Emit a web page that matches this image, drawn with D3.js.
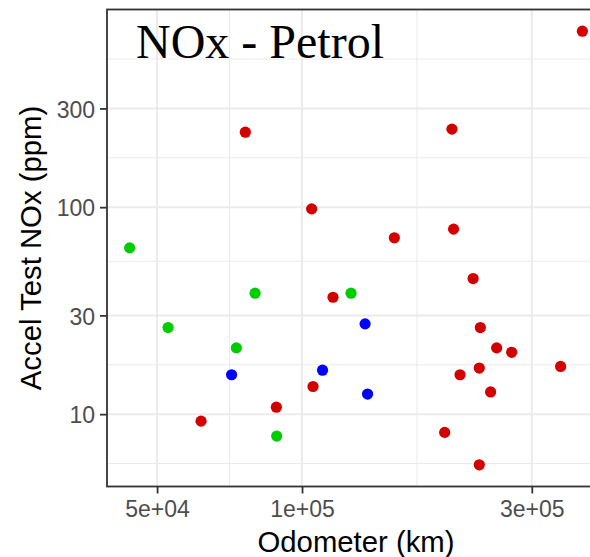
<!DOCTYPE html>
<html>
<head>
<meta charset="utf-8">
<script src="https://cdn.jsdelivr.net/npm/d3@7/dist/d3.min.js"></script>
<style>
  html, body { margin: 0; padding: 0; background: #fff; }
  svg { display: block; }
</style>
</head>
<body>
<svg id="chart" width="590" height="557"></svg>
<script>
// Odometer (km) and acceleration-test NOx (ppm), one pair of arrays per vehicle group
const redOdometer   = [76250, 382100, 204800, 104700, 155500, 206400, 226600, 61700, 88450, 115970,
                       105400, 234600, 253600, 272500, 344400, 233400, 212900, 246400, 197800, 233400];
const redNox        = [230.3, 708.5, 238.2, 98.1, 71.1, 78.3, 45.2, 9.25, 10.8, 36.7,
                       13.6, 26.2, 20.9, 19.9, 17.0, 16.7, 15.5, 12.8, 8.16, 5.69];
const greenOdometer = [43850, 52690, 79890, 73040, 88580, 126400];
const greenNox      = [63.6, 26.2, 38.4, 20.9, 7.83, 38.4];
const blueOdometer  = [71410, 135200, 110300, 136800];
const blueNox       = [15.5, 27.3, 16.3, 12.5];

const groupColors = ["#D30000", "#00CD00", "#0000FF"];

// Axis breaks and labels
const xTicks      = [5e4, 1e5, 3e5];
const xTickLabels = ["5e+04", "1e+05", "3e+05"];
const yTicks      = [10, 30, 100, 300];
const yTickLabels = ["10", "30", "100", "300"];

const chartTitle = "NOx - Petrol";
const xTitle = "Odometer (km)";
const yTitle = "Accel Test NOx (ppm)";

// Assemble point records
const groups = [
  { odo: redOdometer,   nox: redNox,   color: groupColors[0] },
  { odo: greenOdometer, nox: greenNox, color: groupColors[1] },
  { odo: blueOdometer,  nox: blueNox,  color: groupColors[2] }
];
const points = groups.flatMap(g => g.odo.map((o, i) => ({ x: o, y: g.nox[i], color: g.color })));

// Panel geometry
const panel = { left: 107, top: 9.5, right: 605, bottom: 486.5 };

// Log-space extent with 5% padding on each side
function paddedLogDomain(values) {
  const lo = Math.log10(d3.min(values)), hi = Math.log10(d3.max(values));
  const pad = (hi - lo) * 0.05;
  return [Math.pow(10, lo - pad), Math.pow(10, hi + pad)];
}

const x = d3.scaleLog()
  .domain(paddedLogDomain(points.map(d => d.x)))
  .range([panel.left, panel.right]);
const y = d3.scaleLog()
  .domain(paddedLogDomain(points.map(d => d.y)))
  .range([panel.bottom, panel.top]);

// Minor grid: midpoints (in log space) between majors, extended one step beyond each end
function minorBreaks(majors, scale) {
  const l = majors.map(Math.log10);
  const step = l[1] - l[0];
  const ext = [l[0] - step, ...l, l[l.length - 1] + step];
  const dom = scale.domain().map(Math.log10);
  const out = [];
  for (let i = 0; i < ext.length - 1; i++) {
    const m = (ext[i] + ext[i + 1]) / 2;
    if (m > dom[0] && m < dom[1]) out.push(Math.pow(10, m));
  }
  return out;
}

const svg = d3.select("#chart");
const font = "'Liberation Sans', Arial, Helvetica, sans-serif";

// Panel background
svg.append("rect")
  .attr("x", panel.left).attr("y", panel.top)
  .attr("width", panel.right - panel.left).attr("height", panel.bottom - panel.top)
  .attr("fill", "#fff");

const grid = svg.append("g");
// minor grid lines
grid.selectAll(".xminor").data(minorBreaks(xTicks, x)).join("line")
  .attr("x1", d => x(d)).attr("x2", d => x(d))
  .attr("y1", panel.top).attr("y2", panel.bottom)
  .attr("stroke", "#EBEBEB").attr("stroke-width", 1);
grid.selectAll(".yminor").data(minorBreaks(yTicks, y)).join("line")
  .attr("y1", d => y(d)).attr("y2", d => y(d))
  .attr("x1", panel.left).attr("x2", panel.right)
  .attr("stroke", "#EBEBEB").attr("stroke-width", 1);
// major grid lines
grid.selectAll(".xmajor").data(xTicks).join("line")
  .attr("x1", d => x(d)).attr("x2", d => x(d))
  .attr("y1", panel.top).attr("y2", panel.bottom)
  .attr("stroke", "#EBEBEB").attr("stroke-width", 2);
grid.selectAll(".ymajor").data(yTicks).join("line")
  .attr("y1", d => y(d)).attr("y2", d => y(d))
  .attr("x1", panel.left).attr("x2", panel.right)
  .attr("stroke", "#EBEBEB").attr("stroke-width", 2);

// Points
svg.append("g").selectAll("circle").data(points).join("circle")
  .attr("cx", d => x(d.x))
  .attr("cy", d => y(d.y))
  .attr("r", 5.6)
  .attr("fill", d => d.color);

// Title inside the panel
svg.append("text")
  .attr("x", 136).attr("y", 57.5)
  .attr("font-family", "'Liberation Serif', 'Times New Roman', serif")
  .attr("font-size", 48)
  .attr("fill", "#000")
  .text(chartTitle);

// Panel border
svg.append("rect")
  .attr("x", panel.left).attr("y", panel.top)
  .attr("width", panel.right - panel.left).attr("height", panel.bottom - panel.top)
  .attr("fill", "none").attr("stroke", "#333333").attr("stroke-width", 1.8);

// Axes
const xAxis = d3.axisBottom(x)
  .tickValues(xTicks)
  .tickFormat((d, i) => xTickLabels[i])
  .tickSize(7).tickPadding(4);
const yAxis = d3.axisLeft(y)
  .tickValues(yTicks)
  .tickFormat((d, i) => yTickLabels[i])
  .tickSize(7).tickPadding(5);

function styleAxis(g) {
  g.select(".domain").remove();
  g.selectAll(".tick line").attr("stroke", "#333333").attr("stroke-width", 1.8);
  g.selectAll(".tick text")
    .attr("fill", "#4D4D4D")
    .attr("font-family", font)
    .attr("font-size", 23);
}

svg.append("g")
  .attr("transform", `translate(0,${panel.bottom})`)
  .call(xAxis)
  .call(styleAxis)
  .selectAll(".tick text").attr("dy", "0.85em");

svg.append("g")
  .attr("transform", `translate(${panel.left},0)`)
  .call(yAxis)
  .call(styleAxis)
  .selectAll(".tick text").attr("dy", "0.38em");

// Axis titles
svg.append("text")
  .attr("x", (panel.left + panel.right) / 2).attr("y", 552)
  .attr("text-anchor", "middle")
  .attr("font-family", font).attr("font-size", 29.3)
  .attr("fill", "#000")
  .text(xTitle);

svg.append("text")
  .attr("transform", `translate(41,${(panel.top + panel.bottom) / 2}) rotate(-90)`)
  .attr("text-anchor", "middle")
  .attr("font-family", font).attr("font-size", 29.3)
  .attr("fill", "#000")
  .text(yTitle);
</script>
</body>
</html>
